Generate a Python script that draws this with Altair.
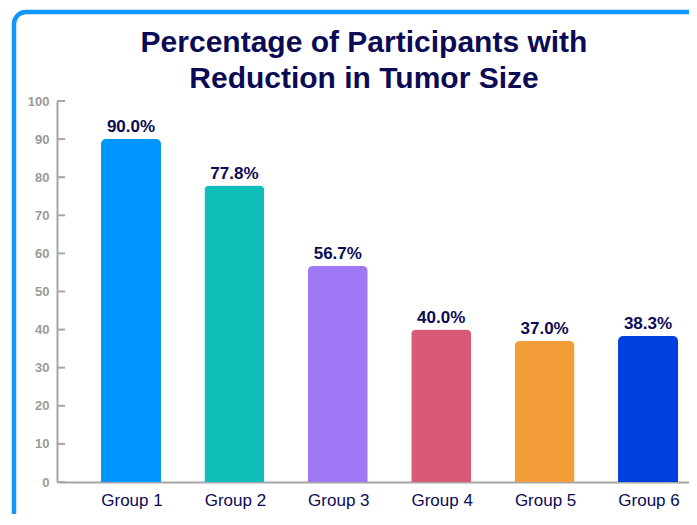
import altair as alt
import pandas as pd

groups = ["Group 1", "Group 2", "Group 3", "Group 4", "Group 5", "Group 6"]
values = [90.0, 77.8, 56.7, 40.0, 37.0, 38.3]
colors = ["#0096FF", "#10BEB9", "#A078F6", "#D85A77", "#F29D37", "#0040DE"]
y_ticks = [0, 10, 20, 30, 40, 50, 60, 70, 80, 90, 100]
title_lines = ["Percentage of Participants with", "Reduction in Tumor Size"]

NAVY = "#0B0B55"
GRAY = "#A6A6A6"

df = pd.DataFrame({"group": groups, "value": values})
df["label"] = [f"{v:.1f}%" for v in values]
ticks_df = pd.DataFrame({"t": y_ticks})
one_df = pd.DataFrame({"k": [0]})

x_axis = alt.Axis(
    title=None, labelAngle=0, ticks=False, tickSize=0, labelPadding=10, labelOffset=1,
    labelFontSize=17, labelColor=NAVY, labelFont="Liberation Sans",
    domainColor=GRAY, domainWidth=2, grid=False, labelOverlap=False,
)
y_axis = alt.Axis(
    title=None, values=y_ticks, ticks=False, tickSize=0, labelPadding=8,
    labelFontSize=13, labelFontWeight="bold", labelColor="#9A9A9A",
    labelFont="Liberation Sans", grid=False, labelOverlap=False,
    domainColor=GRAY, domainWidth=2,
)
x_scale = alt.Scale(paddingInner=0.42, paddingOuter=0.266, align=0.8)
y_scale = alt.Scale(domain=[0, 100], nice=False)

bars = alt.Chart(df).mark_bar(cornerRadiusTopLeft=5, cornerRadiusTopRight=5).encode(
    x=alt.X("group:N", sort=groups, scale=x_scale, axis=x_axis),
    y=alt.Y("value:Q", scale=y_scale, axis=y_axis),
    color=alt.Color("group:N", scale=alt.Scale(domain=groups, range=colors), legend=None),
)

labels = alt.Chart(df).mark_text(
    baseline="bottom", dy=-3, fontSize=17, fontWeight="bold", color=NAVY, font="Liberation Sans"
).encode(
    x=alt.X("group:N", sort=groups, scale=x_scale, axis=x_axis),
    y=alt.Y("value:Q", scale=y_scale, axis=y_axis),
    text="label:N",
)

tick_marks = alt.Chart(ticks_df).mark_rule(color=GRAY, strokeWidth=2).encode(
    y=alt.Y("t:Q", scale=y_scale, axis=y_axis),
    x=alt.value(0),
    x2=alt.value(8),
)

frame = alt.Chart(one_df).mark_rect(
    fill="transparent", stroke="#1496FF", strokeWidth=4.5, cornerRadius=12
).encode(
    x=alt.value(-43),
    x2=alt.value(720),
    y=alt.value(-89),
    y2=alt.value(560),
)

title = alt.Chart(one_df).mark_text(
    fontSize=30, font="Liberation Sans", fontWeight="bold", color=NAVY,
    lineHeight=36, align="center", baseline="alphabetic",
).encode(
    x=alt.value(307),
    y=alt.value(-49),
    text=alt.value(title_lines),
)

chart = (
    alt.layer(frame, bars, tick_marks, labels, title)
    .properties(
        width=632,
        height=381,
        autosize="none",
        padding={"left": 49, "top": 93, "right": 0, "bottom": 32},
    )
    .configure(font="Liberation Sans")
    .configure_view(stroke="transparent")
    .configure_axis(grid=False)
)

chart.save("out.html", embed_options={"renderer": "svg", "actions": False})
